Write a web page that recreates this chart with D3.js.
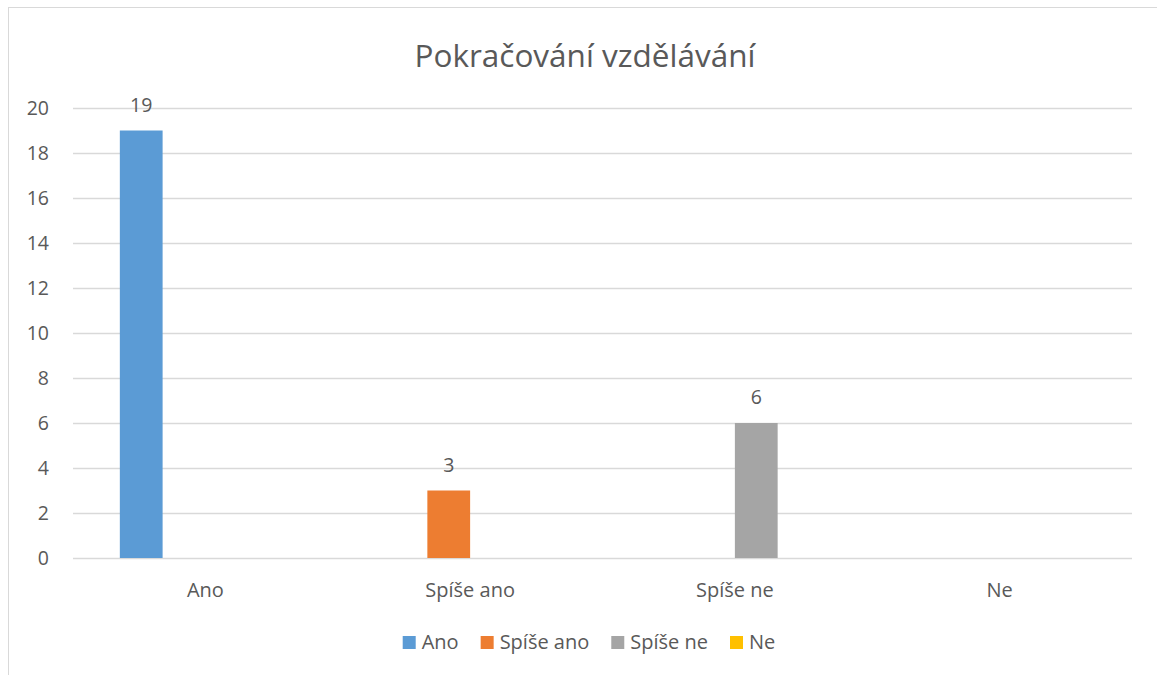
<!DOCTYPE html>
<meta charset="utf-8">
<script src="https://d3js.org/d3.v7.min.js"></script>
<style>
body { margin: 0; background: #fff; }
text { font-family: "Open Sans", sans-serif; fill: #595959; }
.grid line { stroke: #d9d9d9; stroke-width: 1.3px; }
</style>
<div id="chart"></div>
<script>
// data
var categories = ["Ano", "Spíše ano", "Spíše ne", "Ne"];
var seriesNames = ["Ano", "Spíše ano", "Spíše ne", "Ne"];
var seriesAno = [19, null, null, null];
var seriesSpiseAno = [null, 3, null, null];
var seriesSpiseNe = [null, null, 6, null];
var seriesNe = [null, null, null, null];
var seriesColors = ["#5b9bd5", "#ed7d31", "#a5a5a5", "#ffc000"];
var yTicks = [0, 2, 4, 6, 8, 10, 12, 14, 16, 18, 20];

var allSeries = [seriesAno, seriesSpiseAno, seriesSpiseNe, seriesNe];

var W = 1157, H = 675;
var plot = {left: 73, right: 1132, top: 108, bottom: 558};

var svg = d3.select("#chart").append("svg").attr("width", W).attr("height", H);

// chart frame
svg.append("rect").attr("x", 8.5).attr("y", 7.5).attr("width", 1153).attr("height", 700)
  .attr("fill", "none").attr("stroke", "#d9d9d9");

svg.append("text").attr("x", 585).attr("y", 67).attr("text-anchor", "middle")
  .style("font-size", "31.5px").text("Pokračování vzdělávání");

var x0 = d3.scaleBand().domain(categories).range([plot.left, plot.right]);
var x1 = d3.scaleBand().domain(seriesNames).range([0, x0.bandwidth()]).paddingInner(0).paddingOuter(1.095);
var y = d3.scaleLinear().domain([0, 20]).range([plot.bottom, plot.top]);

// gridlines
svg.append("g").attr("class", "grid").selectAll("line").data(yTicks).enter().append("line")
  .attr("x1", plot.left).attr("x2", plot.right)
  .attr("y1", function(d) { return Math.round(y(d)) + 0.5; })
  .attr("y2", function(d) { return Math.round(y(d)) + 0.5; });

// y tick labels
svg.append("g").selectAll("text").data(yTicks).enter().append("text")
  .attr("x", 49).attr("y", function(d) { return y(d) + 7; })
  .attr("text-anchor", "end").style("font-size", "19.5px").text(function(d) { return d; });

// category labels
svg.append("g").selectAll("text").data(categories).enter().append("text")
  .attr("x", function(d) { return x0(d) + x0.bandwidth() / 2; }).attr("y", 597)
  .attr("text-anchor", "middle").style("font-size", "20px").text(function(d) { return d; });

// bars
var bars = [];
allSeries.forEach(function(vals, si) {
  vals.forEach(function(v, ci) {
    if (v != null) bars.push({series: seriesNames[si], cat: categories[ci], value: v, color: seriesColors[si]});
  });
});

var g = svg.append("g");
g.selectAll("rect").data(bars).enter().append("rect")
  .attr("x", function(d) { return x0(d.cat) + x1(d.series); })
  .attr("width", x1.bandwidth())
  .attr("y", function(d) { return y(d.value); })
  .attr("height", function(d) { return y(0) - y(d.value); })
  .attr("fill", function(d) { return d.color; });

g.selectAll("text").data(bars).enter().append("text")
  .attr("x", function(d) { return x0(d.cat) + x1(d.series) + x1.bandwidth() / 2; })
  .attr("y", function(d) { return y(d.value) - 19; })
  .attr("text-anchor", "middle").style("font-size", "19.5px").text(function(d) { return d.value; });

// legend
var legend = svg.append("g");
var items = legend.selectAll("g").data(seriesNames).enter().append("g");
items.append("rect").attr("width", 13).attr("height", 13).attr("y", 636)
  .attr("fill", function(d, i) { return seriesColors[i]; });
items.append("text").attr("x", 19).attr("y", 649).style("font-size", "20px").text(function(d) { return d; });
var pos = 0, offsets = [];
items.each(function() {
  offsets.push(pos);
  pos += 19 + d3.select(this).select("text").node().getComputedTextLength() + 22;
});
var total = pos - 22;
var start = 589 - total / 2;
items.attr("transform", function(d, i) { return "translate(" + (start + offsets[i]) + ",0)"; });
</script>
